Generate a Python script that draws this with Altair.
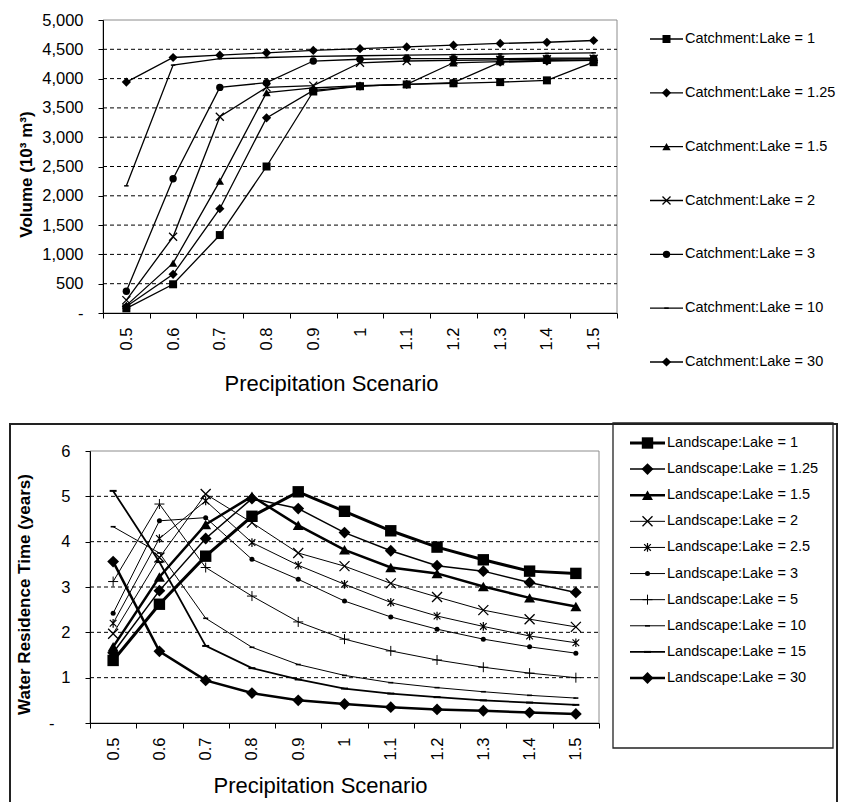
import altair as alt
import pandas as pd

FONT = "Liberation Sans"

# ---------------- data ----------------
scenarios = ["0.5", "0.6", "0.7", "0.8", "0.9", "1", "1.1", "1.2", "1.3", "1.4", "1.5"]

# Top panel: lake volume (10^3 m^3)
vol_names = ["Catchment:Lake = 1", "Catchment:Lake = 1.25", "Catchment:Lake = 1.5",
             "Catchment:Lake = 2", "Catchment:Lake = 3", "Catchment:Lake = 10",
             "Catchment:Lake = 30"]
vol_1 = [80, 490, 1330, 2500, 3780, 3870, 3900, 3920, 3940, 3970, 4280]
vol_125 = [110, 660, 1780, 3330, 3800, 3870, 3900, 3930, 4280, 4300, 4310]
vol_15 = [130, 850, 2250, 3760, 3840, 3880, 3900, 4270, 4290, 4310, 4320]
vol_2 = [220, 1300, 3350, 3850, 3880, 4270, 4300, 4310, 4320, 4330, 4340]
vol_3 = [370, 2290, 3850, 3930, 4300, 4330, 4340, 4340, 4340, 4350, 4350]
vol_10 = [2170, 4230, 4340, 4360, 4380, 4390, 4400, 4410, 4420, 4430, 4440]
vol_30 = [3940, 4360, 4400, 4440, 4480, 4510, 4540, 4570, 4600, 4620, 4650]
vol_values = [vol_1, vol_125, vol_15, vol_2, vol_3, vol_10, vol_30]
vol_ticks = [0, 500, 1000, 1500, 2000, 2500, 3000, 3500, 4000, 4500, 5000]
vol_grid = [500, 1000, 1500, 2000, 2500, 3000, 3500, 4000, 4500]

# Bottom panel: water residence time (years)
res_names = ["Landscape:Lake = 1", "Landscape:Lake = 1.25", "Landscape:Lake = 1.5",
             "Landscape:Lake = 2", "Landscape:Lake = 2.5", "Landscape:Lake = 3",
             "Landscape:Lake = 5", "Landscape:Lake = 10", "Landscape:Lake = 15",
             "Landscape:Lake = 30"]
res_1 = [1.38, 2.62, 3.68, 4.56, 5.10, 4.67, 4.24, 3.88, 3.60, 3.35, 3.30]
res_125 = [1.55, 2.92, 4.07, 4.95, 4.73, 4.20, 3.80, 3.47, 3.35, 3.10, 2.88]
res_15 = [1.68, 3.22, 4.38, 5.00, 4.36, 3.82, 3.43, 3.30, 3.01, 2.76, 2.57]
res_2 = [1.97, 3.65, 5.05, 4.42, 3.75, 3.46, 3.08, 2.78, 2.49, 2.29, 2.12]
res_25 = [2.20, 4.07, 4.90, 3.98, 3.48, 3.06, 2.66, 2.36, 2.13, 1.92, 1.77]
res_3 = [2.42, 4.46, 4.53, 3.61, 3.17, 2.69, 2.34, 2.07, 1.85, 1.68, 1.54]
res_5 = [3.12, 4.83, 3.43, 2.80, 2.23, 1.85, 1.59, 1.39, 1.23, 1.10, 1.00]
res_10 = [4.33, 3.75, 2.31, 1.67, 1.29, 1.05, 0.89, 0.78, 0.69, 0.61, 0.55]
res_15b = [5.12, 3.55, 1.70, 1.21, 0.96, 0.76, 0.65, 0.57, 0.50, 0.45, 0.40]
res_30 = [3.56, 1.58, 0.94, 0.66, 0.50, 0.42, 0.35, 0.30, 0.27, 0.23, 0.20]
res_values = [res_1, res_125, res_15, res_2, res_25, res_3, res_5, res_10, res_15b, res_30]
res_ticks = [0, 1, 2, 3, 4, 5, 6]
res_grid = [1, 2, 3, 4, 5]

# ---------------- styles ----------------
XPATH = "M-1,-1L1,1M-1,1L1,-1"
STAR = "M-1,-1L1,1M-1,1L1,-1M0,-1.3L0,1.3"
PLUS = "M-1,0L1,0M0,-1L0,1"
DASH = "M-1,0L1,0"


def st(shape, size, filled, sw=1.0, width=1.3):
    return dict(shape=shape, size=size, filled=filled, sw=sw, width=width)


top_styles = {
    vol_names[0]: st("square", 64, True),
    vol_names[1]: st("diamond", 85, True),
    vol_names[2]: st("triangle-up", 70, True),
    vol_names[3]: st(XPATH, 64, False, 1.3),
    vol_names[4]: st("circle", 55, True),
    vol_names[5]: st(DASH, 20, False, 1.5),
    vol_names[6]: st("diamond", 85, True),
}
bot_styles = {
    res_names[0]: st("square", 130, True, 1, 3.0),
    res_names[1]: st("diamond", 140, True, 1, 1.5),
    res_names[2]: st("triangle-up", 120, True, 1, 2.5),
    res_names[3]: st(XPATH, 100, False, 1.3, 1.0),
    res_names[4]: st(STAR, 45, False, 1.2, 1.0),
    res_names[5]: st("circle", 25, True, 1, 1.0),
    res_names[6]: st(PLUS, 100, False, 1.0, 1.0),
    res_names[7]: st(DASH, 25, False, 1.6, 1.0),
    res_names[8]: st(DASH, 49, False, 2.0, 1.8),
    res_names[9]: st("diamond", 140, True, 1, 2.5),
}


def long_df(names, series_list):
    rows = []
    for name, vals in zip(names, series_list):
        for i, (s, v) in enumerate(zip(scenarios, vals)):
            rows.append({"series": name, "scenario": s, "idx": i, "value": v})
    return pd.DataFrame(rows)


top_df = long_df(vol_names, vol_values)
bot_df = long_df(res_names, res_values)
one = pd.DataFrame({"k": [0]})


def panel(df, names, styles, x_rng, y_dom, y_rng, grid_vals, x_axis, y_axis):
    xs = alt.Scale(type="band", domain=scenarios, range=x_rng, paddingInner=0, paddingOuter=0)
    ys = alt.Scale(domain=y_dom, range=y_rng, nice=False, zero=False)
    layers = []
    layers.append(alt.Chart(one).mark_rect(filled=False, stroke="#8c8c8c", strokeWidth=1).encode(
        x=alt.value(x_rng[0]), x2=alt.value(x_rng[1]), y=alt.value(y_rng[1]), y2=alt.value(y_rng[0])))
    grid_df = pd.DataFrame({"g": grid_vals})
    layers.append(alt.Chart(grid_df).mark_rule(color="black", strokeWidth=1, strokeDash=[4, 3]).encode(
        y=alt.Y("g:Q", scale=ys, axis=None), x=alt.value(x_rng[0]), x2=alt.value(x_rng[1])))
    first = True
    for name in names:
        s = styles[name]
        sub = df[df.series == name]
        layers.append(alt.Chart(sub).mark_line(color="black", strokeWidth=s["width"]).encode(
            x=alt.X("scenario:N", scale=xs, axis=x_axis if first else None),
            y=alt.Y("value:Q", scale=ys, axis=y_axis if first else None),
            order="idx:Q"))
        first = False
    for name in names:
        s = styles[name]
        sub = df[df.series == name]
        layers.append(alt.Chart(sub).mark_point(shape=s["shape"], size=s["size"], filled=s["filled"],
                                                color="black", strokeWidth=s["sw"], opacity=1).encode(
            x=alt.X("scenario:N", scale=xs, axis=None),
            y=alt.Y("value:Q", scale=ys, axis=None)))
    return layers


def legend(names, styles, x_rng, y_rng, font_size):
    xs = alt.Scale(domain=[0, 1], range=x_rng, nice=False, zero=False)
    ys = alt.Scale(type="point", domain=names, range=y_rng, padding=0)
    ldf = pd.DataFrame({"series": names})
    layers = []
    for name in names:
        s = styles[name]
        base = alt.Chart(ldf).transform_filter(alt.datum.series == name).transform_calculate(
            a="0", b="1", m="0.5")
        layers.append(base.mark_rule(color="black", strokeWidth=s["width"]).encode(
            x=alt.X("a:Q", scale=xs, axis=None), x2="b:Q",
            y=alt.Y("series:N", scale=ys, axis=None)))
        layers.append(base.mark_point(shape=s["shape"], size=s["size"], filled=s["filled"],
                                      color="black", strokeWidth=s["sw"], opacity=1).encode(
            x=alt.X("m:Q", scale=xs, axis=None),
            y=alt.Y("series:N", scale=ys, axis=None)))
    layers.append(alt.Chart(ldf).transform_calculate(b="1").mark_text(
        align="left", baseline="middle", dx=2, fontSize=font_size, font=FONT, color="black").encode(
        x=alt.X("b:Q", scale=xs, axis=None),
        y=alt.Y("series:N", scale=ys, axis=None),
        text="series:N"))
    return layers


# The view is the top plot area; everything else is placed relative to it.
VW, VH = 514, 293
PAD = {"left": 95, "top": 12, "right": 222, "bottom": 489}

TOP_X = [0, VW]
TOP_Y = [VH, 0]
BOT_X = [-13, 496]
BOT_Y = [703, 431]

top_xaxis = alt.Axis(orient="bottom", offset=0, labelAngle=270, labelAlign="right",
                     labelBaseline="middle", labelPadding=9, labelFontSize=16.5, tickSize=5,
                     tickBand="extent", grid=False, zindex=1, labelOverlap=False,
                     title="Precipitation Scenario", titleFontSize=22, titleFontWeight="normal",
                     titleX=228, titleY=70, titleAlign="center", titleBaseline="middle")
top_yaxis = alt.Axis(orient="left", offset=0, values=vol_ticks,
                     labelExpr="datum.value == 0 ? '-' : format(datum.value, ',')",
                     tickSize=5, labelPadding=15, labelFontSize=16.5, labelOverlap=False,
                     grid=False, zindex=1, title="Volume (10³ m³)", titleFontSize=17,
                     titleFontWeight="bold", titleAngle=270, titleAlign="center",
                     titleBaseline="middle", titleX=-77, titleY=154)
bot_xaxis = alt.Axis(orient="bottom", offset=BOT_Y[0] - VH, labelAngle=270, labelAlign="right",
                     labelBaseline="middle", labelPadding=9, labelFontSize=16.5, tickSize=5,
                     tickBand="extent", grid=False, zindex=1, labelOverlap=False,
                     title="Precipitation Scenario", titleFontSize=22, titleFontWeight="normal",
                     titleX=217, titleY=62, titleAlign="center", titleBaseline="middle")
bot_yaxis = alt.Axis(orient="left", offset=-BOT_X[0], values=res_ticks,
                     labelExpr="datum.value == 0 ? '-' : datum.label",
                     labelPadding={"condition": {"test": "datum.value == 0", "value": 31}, "value": 15},
                     tickSize=5, labelFontSize=16.5, labelOverlap=False,
                     grid=False, zindex=1, title="Water Residence Time (years)", titleFontSize=17,
                     titleFontWeight="bold", titleAngle=270, titleAlign="center",
                     titleBaseline="middle", titleX=-66, titleY=574)

outer_box = alt.Chart(one).mark_rect(filled=False, stroke="#222222", strokeWidth=2).encode(
    x=alt.value(-93), x2=alt.value(734), y=alt.value(404), y2=alt.value(830))
legend_box = alt.Chart(one).mark_rect(filled=False, stroke="#222222", strokeWidth=1.3).encode(
    x=alt.value(510), x2=alt.value(730), y=alt.value(403), y2=alt.value(728))

layers = [outer_box, legend_box]
layers += panel(top_df, vol_names, top_styles, TOP_X, [0, 5000], TOP_Y, vol_grid, top_xaxis, top_yaxis)
layers += panel(bot_df, res_names, bot_styles, BOT_X, [0, 6], BOT_Y, res_grid, bot_xaxis, bot_yaxis)
layers += legend(vol_names, top_styles, [547, 580], [19, 342], 14.5)
layers += legend(res_names, bot_styles, [527, 562], [423, 658], 14.5)

chart = alt.layer(*layers).resolve_scale(
    x="independent", y="independent"
).properties(
    width=VW, height=VH, padding=PAD, autosize=alt.AutoSizeParams(type="none")
).configure_view(
    strokeWidth=0
).configure_axis(
    labelFont=FONT, titleFont=FONT, labelColor="black", titleColor="black",
    domainColor="black", tickColor="black"
)

chart.save("out.html", embed_options={"renderer": "svg", "actions": False})
